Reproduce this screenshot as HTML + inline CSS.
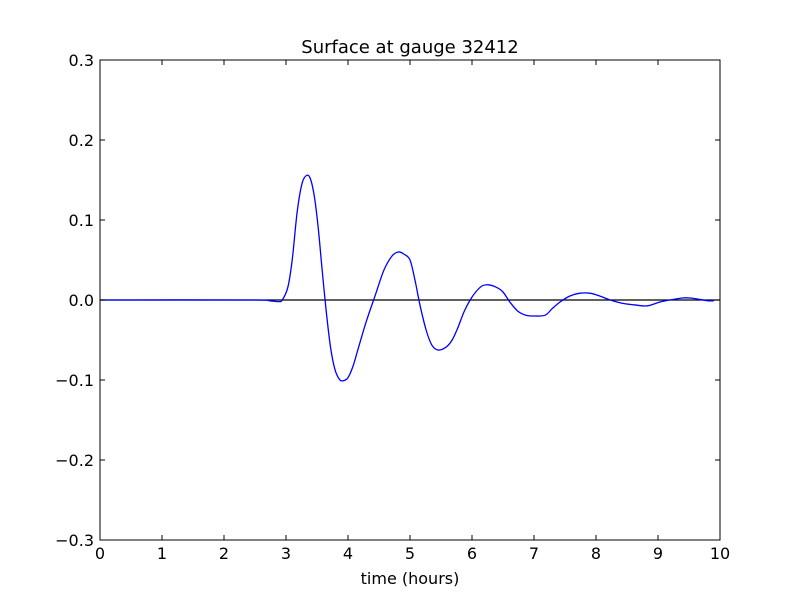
<!DOCTYPE html>
<html><head><meta charset="utf-8"><style>
body{margin:0;background:#fff;}
svg{display:block;font-family:"DejaVu Sans","Liberation Sans",sans-serif;}
</style></head><body>
<svg id="chart" width="800" height="600">
<rect width="800" height="600" fill="#fff"/>
<text x="410" y="53" text-anchor="middle" font-size="18">Surface at gauge 32412</text>
<text x="410" y="584" text-anchor="middle" font-size="16">time (hours)</text>
</svg>
<script>
const xTicks=[0,1,2,3,4,5,6,7,8,9,10];
const yTicks=[-0.3,-0.2,-0.1,0.0,0.1,0.2,0.3];
const yTickLabels=["\u22120.3","\u22120.2","\u22120.1","0.0","0.1","0.2","0.3"];
const times=[0,2.42,2.74,2.88,2.94,3.03,3.10,3.18,3.26,3.34,3.40,3.46,3.52,3.58,3.65,3.72,3.79,3.86,3.92,4.00,4.08,4.16,4.29,4.44,4.58,4.71,4.81,4.90,5.00,5.08,5.16,5.26,5.35,5.45,5.58,5.68,5.77,5.87,5.97,6.06,6.16,6.26,6.39,6.50,6.61,6.74,6.87,7.00,7.18,7.29,7.42,7.58,7.74,7.90,8.06,8.23,8.42,8.61,8.79,8.90,9.03,9.19,9.39,9.52,9.65,9.81,9.90];
const surface=[0,0,-0.001,-0.002,0,0.016,0.05,0.11,0.146,0.156,0.15,0.128,0.09,0.04,-0.015,-0.06,-0.087,-0.099,-0.101,-0.097,-0.083,-0.062,-0.028,0.006,0.0375,0.055,0.06,0.0575,0.05,0.025,-0.006,-0.0375,-0.056,-0.0625,-0.059,-0.05,-0.035,-0.015,0,0.01,0.0175,0.019,0.016,0.01,-0.0025,-0.014,-0.019,-0.02,-0.019,-0.011,-0.0025,0.005,0.0085,0.0085,0.005,0,-0.004,-0.006,-0.0075,-0.006,-0.0025,0,0.0025,0.0025,0.001,-0.001,-0.001];
const L=100,R=720,T=60,B=540;
const xs=t=>L+(t-0)/(10-0)*(R-L);
const ys=v=>B-(v+0.3)/0.6*(B-T);
const ns="http://www.w3.org/2000/svg";
const svg=document.getElementById('chart');
function mk(tag,attrs,parent){const e=document.createElementNS(ns,tag);for(const k in attrs)e.setAttribute(k,attrs[k]);(parent||svg).appendChild(e);return e;}
const zl=mk('line',{x1:L,x2:R,y1:ys(0),y2:ys(0),stroke:'#000','stroke-width':1.3});


const P=times.map((t,i)=>[xs(t),ys(surface[i])]);
let d='M'+P[0][0]+','+P[0][1];
for(let i=0;i<P.length-1;i++){const p0=P[Math.max(0,i-1)],p1=P[i],p2=P[i+1],p3=P[Math.min(P.length-1,i+2)];
const c1x=p1[0]+(p2[0]-p0[0])/6,c1y=p1[1]+(p2[1]-p0[1])/6,c2x=p2[0]-(p3[0]-p1[0])/6,c2y=p2[1]-(p3[1]-p1[1])/6;
d+=` C${c1x},${c1y} ${c2x},${c2y} ${p2[0]},${p2[1]}`;}
const line=mk('path',{d:d,fill:'none',stroke:'#0000ff','stroke-width':1.3});


const fr=mk('rect',{x:L,y:T,width:R-L,height:B-T,fill:'none',stroke:'#000','stroke-width':1});


xTicks.forEach(t=>{const x=xs(t);
mk('line',{x1:x,x2:x,y1:B,y2:B-5,stroke:'#000'});mk('line',{x1:x,x2:x,y1:T,y2:T+5,stroke:'#000'});
const tx=mk('text',{x:x,y:B+19,'text-anchor':'middle','font-size':16});tx.textContent=t;

});
yTicks.forEach((v,i)=>{const y=ys(v);
mk('line',{x1:L,x2:L+5,y1:y,y2:y,stroke:'#000'});mk('line',{x1:R,x2:R-5,y1:y,y2:y,stroke:'#000'});
const tx=mk('text',{x:L-6,y:y+6,'text-anchor':'end','font-size':16});tx.textContent=yTickLabels[i];

});
</script>
</body></html>
